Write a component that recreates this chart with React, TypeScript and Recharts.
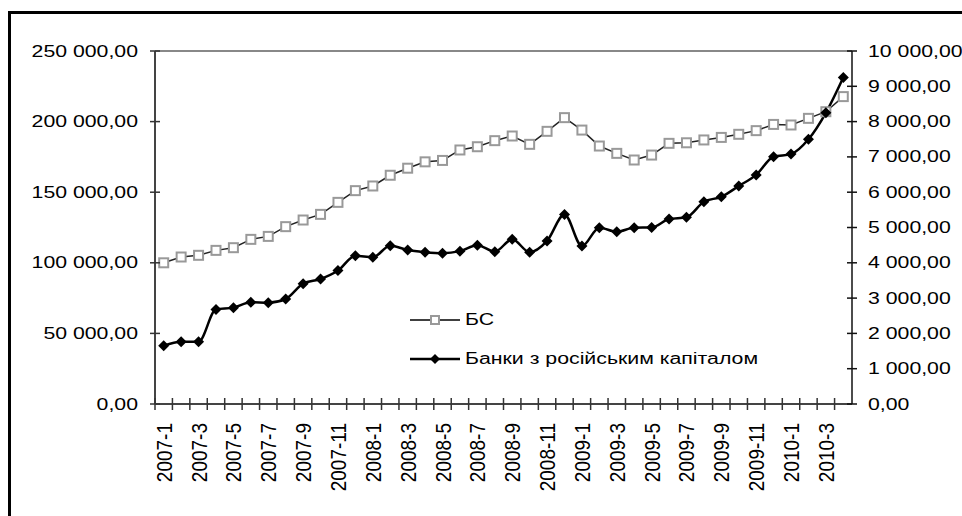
import React from 'react'
import { ComposedChart, Line, XAxis, YAxis, ReferenceLine } from 'recharts'

const months = [
  '2007-1', '2007-2', '2007-3', '2007-4', '2007-5', '2007-6', '2007-7', '2007-8', '2007-9', '2007-10', '2007-11', '2007-12',
  '2008-1', '2008-2', '2008-3', '2008-4', '2008-5', '2008-6', '2008-7', '2008-8', '2008-9', '2008-10', '2008-11', '2008-12',
  '2009-1', '2009-2', '2009-3', '2009-4', '2009-5', '2009-6', '2009-7', '2009-8', '2009-9', '2009-10', '2009-11', '2009-12',
  '2010-1', '2010-2', '2010-3', '2010-4',
]

// БС, left axis
const bs = [
  100000, 104100, 105300, 108800, 110700, 116600, 118700, 125600, 130300, 134300, 142800, 151100,
  154400, 162000, 167000, 171500, 172500, 179900, 182200, 186500, 189800, 183900, 193100, 202800,
  194000, 182700, 177500, 172800, 176300, 184600, 185000, 187000, 188800, 191000, 193600, 198000,
  197600, 202300, 207000, 217700,
]

// banks with russian capital, right axis
const rus = [
  1650, 1760, 1760, 2680, 2730, 2880, 2870, 2975, 3410, 3540, 3780, 4200,
  4155, 4485, 4360, 4300, 4270, 4330, 4500, 4315, 4665, 4300, 4620, 5370,
  4475, 4995, 4880, 4995, 5000, 5240, 5290, 5730, 5870, 6175, 6490, 7005,
  7080, 7500, 8250, 9250,
]

const seriesNames = ['БС', 'Банки з російським капіталом']
const leftTicks = [0, 50000, 100000, 150000, 200000, 250000]
const rightTicks = [0, 1000, 2000, 3000, 4000, 5000, 6000, 7000, 8000, 9000, 10000]

const data = months.map((m, i) => ({ m, bs: bs[i], rus: rus[i] }))

const W = 962
const H = 516
const LEFT_W = 155
const RIGHT_W = 110
const TOP = 51
const XAXIS_H = 112
const BW = (W - LEFT_W - RIGHT_W) / months.length
const FONT = '"Liberation Sans", Arial, sans-serif'
const STRETCH = 1.33

function fmt(v: number) {
  const s = String(Math.round(v)).replace(/\B(?=(\d{3})+(?!\d))/g, ' ')
  return s + ',00'
}

const LeftTick = (props: any) => {
  const { x, y, payload } = props
  return (
    <g>
      <line x1={x - 5} x2={x + 5} y1={y} y2={y} stroke="#333" strokeWidth={1.5} />
      <g transform={`translate(${x - 17},${y}) scale(${STRETCH},1)`}>
        <text x={0} y={0} textAnchor="end" dominantBaseline="central" fontSize={16} fontFamily={FONT} fill="#000">
          {fmt(payload.value)}
        </text>
      </g>
    </g>
  )
}

const RightTick = (props: any) => {
  const { x, y, payload } = props
  return (
    <g>
      <line x1={x - 5} x2={x + 5} y1={y} y2={y} stroke="#111" strokeWidth={1.5} />
      <g transform={`translate(${x + 16},${y}) scale(${STRETCH},1)`}>
        <text x={0} y={0} textAnchor="start" dominantBaseline="central" fontSize={16} fontFamily={FONT} fill="#000">
          {fmt(payload.value)}
        </text>
      </g>
    </g>
  )
}

const XTick = (props: any) => {
  const { x, y, payload, index } = props
  const bx = x - BW / 2
  return (
    <g>
      <line x1={bx} x2={bx} y1={y - 6} y2={y + 6} stroke="#333" strokeWidth={1.5} />
      {index % 2 === 0 && (
        <text
          transform={`translate(${x},${y + 19}) scale(1.15,1) rotate(-90)`}
          textAnchor="end"
          dominantBaseline="central"
          fontSize={19}
          fontFamily={FONT}
          fill="#000"
        >
          {payload.value}
        </text>
      )}
    </g>
  )
}

const SquareDot = (props: any) => {
  const { cx, cy, index } = props
  return <rect key={index} x={cx - 4.5} y={cy - 4.5} width={9} height={9} fill="#fff" stroke="#999" strokeWidth={2} />
}

const DiamondDot = (props: any) => {
  const { cx, cy, index } = props
  const r = 5.5
  return (
    <polygon
      key={index}
      points={`${cx},${cy - r} ${cx + r},${cy} ${cx},${cy + r} ${cx - r},${cy}`}
      fill="#000"
    />
  )
}

function LegendBox() {
  const row = (i: number, top: number) => (
    <div style={{ position: 'absolute', left: 0, top, display: 'flex', alignItems: 'center', whiteSpace: 'nowrap' }}>
      <svg width={54} height={14}>
        <line x1={1} x2={51} y1={7} y2={7} stroke="#000" strokeWidth={i === 0 ? 1.5 : 2.5} />
        {i === 0 ? (
          <rect x={22} y={3} width={8} height={8} fill="#fff" stroke="#999" strokeWidth={2} />
        ) : (
          <polygon points="26,2 31,7 26,12 21,7" fill="#000" />
        )}
      </svg>
      <span
        style={{
          display: 'inline-block',
          fontSize: 16,
          fontFamily: FONT,
          transform: `scaleX(${STRETCH})`,
          transformOrigin: 'left center',
          marginLeft: 2,
        }}
      >
        {seriesNames[i]}
      </span>
    </div>
  )
  return (
    <div style={{ position: 'absolute', left: 409, top: 311, width: 420, height: 60 }}>
      {row(0, 0)}
      {row(1, 39)}
    </div>
  )
}

export default function App() {
  return (
    <div style={{ position: 'fixed', left: 0, top: 0, width: W, height: H, overflow: 'hidden', background: '#fff' }}>
      <div
        style={{
          position: 'absolute',
          left: 8,
          top: 11,
          width: 1000,
          height: 600,
          border: '3px solid #000',
          boxSizing: 'border-box',
        }}
      />
      <div style={{ position: 'absolute', left: 0, top: 0 }}>
        <ComposedChart width={W} height={H} data={data} margin={{ top: TOP, right: 0, bottom: 0, left: 0 }}>
          <XAxis
            dataKey="m"
            scale="band"
            interval={0}
            height={XAXIS_H}
            tickSize={0}
            tickMargin={0}
            tickLine={false}
            axisLine={{ stroke: '#444', strokeWidth: 2 }}
            tick={XTick}
          />
          <YAxis
            yAxisId="left"
            width={LEFT_W}
            domain={[0, 250000]}
            ticks={leftTicks}
            tickSize={0}
            tickMargin={0}
            tickLine={false}
            axisLine={{ stroke: '#444', strokeWidth: 2 }}
            tick={LeftTick}
          />
          <YAxis
            yAxisId="right"
            orientation="right"
            width={RIGHT_W}
            domain={[0, 10000]}
            ticks={rightTicks}
            tickSize={0}
            tickMargin={0}
            tickLine={false}
            axisLine={{ stroke: '#111', strokeWidth: 1.5 }}
            tick={RightTick}
          />
          <ReferenceLine yAxisId="left" y={250000} stroke="#888" strokeWidth={2} />
          <Line
            yAxisId="left"
            dataKey="bs"
            name={seriesNames[0]}
            type="linear"
            stroke="#222"
            strokeWidth={1.5}
            dot={SquareDot}
            activeDot={false}
            isAnimationActive={false}
          />
          <Line
            yAxisId="right"
            dataKey="rus"
            name={seriesNames[1]}
            type="monotone"
            stroke="#000"
            strokeWidth={2.5}
            dot={DiamondDot}
            activeDot={false}
            isAnimationActive={false}
          />
        </ComposedChart>
      </div>
      <LegendBox />
    </div>
  )
}
